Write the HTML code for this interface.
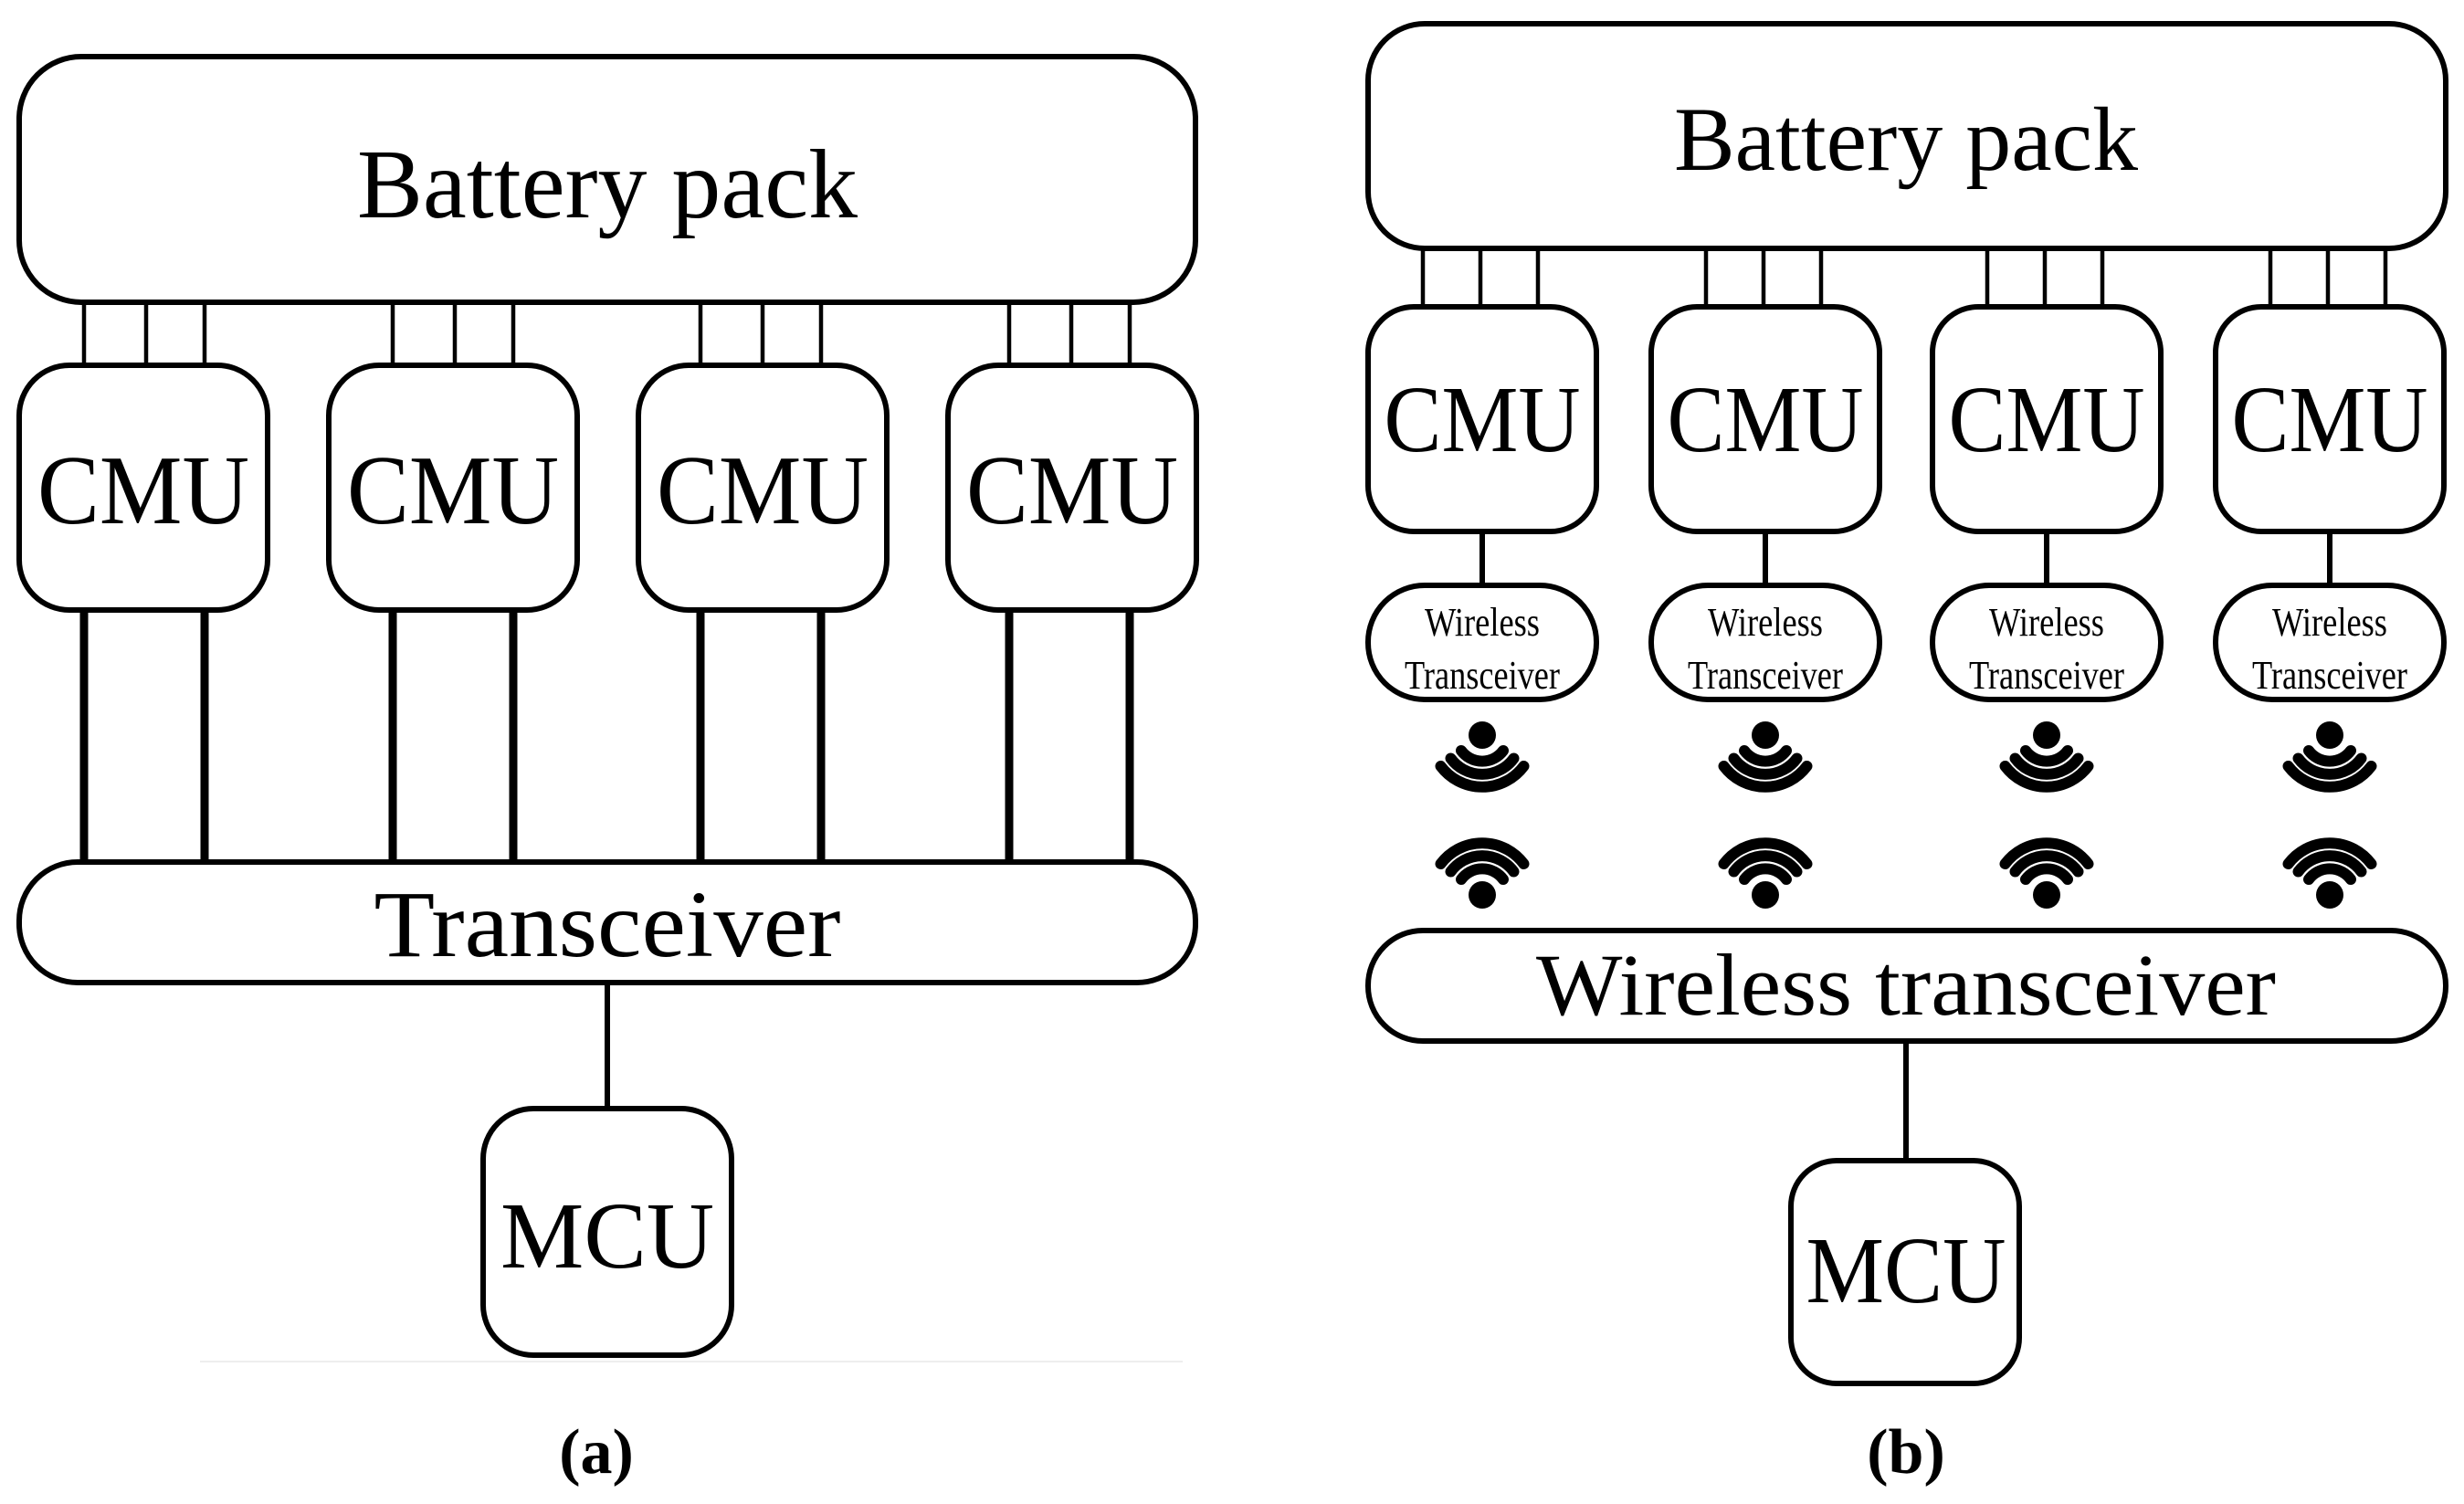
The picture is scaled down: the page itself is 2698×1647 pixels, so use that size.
<!DOCTYPE html>
<html><head><meta charset="utf-8"><style>
html,body{margin:0;padding:0;background:#fff;}
svg{display:block}
text{font-family:"Liberation Serif",serif;fill:#000}
</style></head><body>
<svg width="2698" height="1647" viewBox="0 0 2698 1647" xmlns="http://www.w3.org/2000/svg">
<defs>
<g id="sig">
 <circle cx="0" cy="0" r="15" fill="#000"/>
 <path d="M -23 17 A 28.6 28.6 0 0 0 23 17" fill="none" stroke="#000" stroke-width="12" stroke-linecap="round"/>
 <path d="M -34.5 25.5 A 42.9 42.9 0 0 0 34.5 25.5" fill="none" stroke="#000" stroke-width="12" stroke-linecap="round"/>
 <path d="M -45.5 34 A 56.8 56.8 0 0 0 45.5 34" fill="none" stroke="#000" stroke-width="12" stroke-linecap="round"/>
</g>
</defs>
<g fill="#fff" stroke="#000" stroke-width="6">
<rect x="21" y="62" width="1288" height="269" rx="68"/>
<g stroke-width="4.5">
<path d="M92 331V400M160 331V400M224 331V400"/>
<path d="M430 331V400M498 331V400M562 331V400"/>
<path d="M767 331V400M835 331V400M899 331V400"/>
<path d="M1105 331V400M1173 331V400M1237 331V400"/>
</g>
<rect x="21" y="400" width="272" height="268" rx="55"/>
<rect x="360" y="400" width="272" height="268" rx="55"/>
<rect x="699" y="400" width="272" height="268" rx="55"/>
<rect x="1038" y="400" width="272" height="268" rx="55"/>
<g stroke-width="9">
<path d="M92 668V946M224 668V946"/>
<path d="M430 668V946M562 668V946"/>
<path d="M767 668V946M899 668V946"/>
<path d="M1105 668V946M1237 668V946"/>
</g>
<rect x="21" y="944" width="1288" height="132" rx="64"/>
<path d="M665 1076V1214"/>
<rect x="529" y="1214" width="272" height="270" rx="55"/>
<rect x="1498" y="26" width="1180" height="246" rx="62"/>
<g stroke-width="4.5">
<path d="M1558 272V336M1621 272V336M1684 272V336"/>
<path d="M1868 272V336M1931 272V336M1994 272V336"/>
<path d="M2176 272V336M2239 272V336M2302 272V336"/>
<path d="M2486 272V336M2549 272V336M2612 272V336"/>
</g>
<rect x="1498" y="336" width="250" height="246" rx="50"/>
<rect x="1808" y="336" width="250" height="246" rx="50"/>
<rect x="2116" y="336" width="250" height="246" rx="50"/>
<rect x="2426" y="336" width="250" height="246" rx="50"/>
<path d="M1623 582V641M1933 582V641M2241 582V641M2551 582V641"/>
<rect x="1498" y="641" width="250" height="125" rx="62"/>
<rect x="1808" y="641" width="250" height="125" rx="62"/>
<rect x="2116" y="641" width="250" height="125" rx="62"/>
<rect x="2426" y="641" width="250" height="125" rx="62"/>
<rect x="1498" y="1019" width="1180" height="121" rx="60"/>
<path d="M2087 1140V1271"/>
<rect x="1961" y="1271" width="250" height="244" rx="50"/>
</g>
<line x1="219" y1="1491" x2="1295" y2="1491" stroke="#eee" stroke-width="2"/>
<use href="#sig" transform="translate(1623,805)"/>
<use href="#sig" transform="translate(1933,805)"/>
<use href="#sig" transform="translate(2241,805)"/>
<use href="#sig" transform="translate(2551,805)"/>
<use href="#sig" transform="translate(1623,980) scale(1,-1)"/>
<use href="#sig" transform="translate(1933,980) scale(1,-1)"/>
<use href="#sig" transform="translate(2241,980) scale(1,-1)"/>
<use href="#sig" transform="translate(2551,980) scale(1,-1)"/>
<text x="665" y="238" font-size="108" text-anchor="middle" textLength="548" lengthAdjust="spacingAndGlyphs">Battery pack</text>
<g font-size="108" text-anchor="middle">
<text x="157" y="573" textLength="232" lengthAdjust="spacingAndGlyphs">CMU</text>
<text x="496" y="573" textLength="232" lengthAdjust="spacingAndGlyphs">CMU</text>
<text x="835" y="573" textLength="232" lengthAdjust="spacingAndGlyphs">CMU</text>
<text x="1174" y="573" textLength="232" lengthAdjust="spacingAndGlyphs">CMU</text>
</g>
<text x="665" y="1047" font-size="104" text-anchor="middle" textLength="511" lengthAdjust="spacingAndGlyphs">Transceiver</text>
<text x="665" y="1388" font-size="104" text-anchor="middle" textLength="234" lengthAdjust="spacingAndGlyphs">MCU</text>
<text x="653" y="1613" font-size="70" font-weight="bold" text-anchor="middle">(a)</text>
<text x="2087" y="186" font-size="100" text-anchor="middle" textLength="508" lengthAdjust="spacingAndGlyphs">Battery pack</text>
<g font-size="104" text-anchor="middle">
<text x="1623" y="494" textLength="215" lengthAdjust="spacingAndGlyphs">CMU</text>
<text x="1933" y="494" textLength="215" lengthAdjust="spacingAndGlyphs">CMU</text>
<text x="2241" y="494" textLength="215" lengthAdjust="spacingAndGlyphs">CMU</text>
<text x="2551" y="494" textLength="215" lengthAdjust="spacingAndGlyphs">CMU</text>
</g>
<g font-size="44" text-anchor="middle">
<text x="1623" y="696" textLength="126" lengthAdjust="spacingAndGlyphs">Wireless</text>
<text x="1623" y="754" textLength="170" lengthAdjust="spacingAndGlyphs">Transceiver</text>
<text x="1933" y="696" textLength="126" lengthAdjust="spacingAndGlyphs">Wireless</text>
<text x="1933" y="754" textLength="170" lengthAdjust="spacingAndGlyphs">Transceiver</text>
<text x="2241" y="696" textLength="126" lengthAdjust="spacingAndGlyphs">Wireless</text>
<text x="2241" y="754" textLength="170" lengthAdjust="spacingAndGlyphs">Transceiver</text>
<text x="2551" y="696" textLength="126" lengthAdjust="spacingAndGlyphs">Wireless</text>
<text x="2551" y="754" textLength="170" lengthAdjust="spacingAndGlyphs">Transceiver</text>
</g>
<text x="2087" y="1111" font-size="96" text-anchor="middle" textLength="810" lengthAdjust="spacingAndGlyphs">Wireless transceiver</text>
<text x="2087" y="1426" font-size="104" text-anchor="middle" textLength="219" lengthAdjust="spacingAndGlyphs">MCU</text>
<text x="2087" y="1613" font-size="70" font-weight="bold" text-anchor="middle">(b)</text>
</svg>
</body></html>
